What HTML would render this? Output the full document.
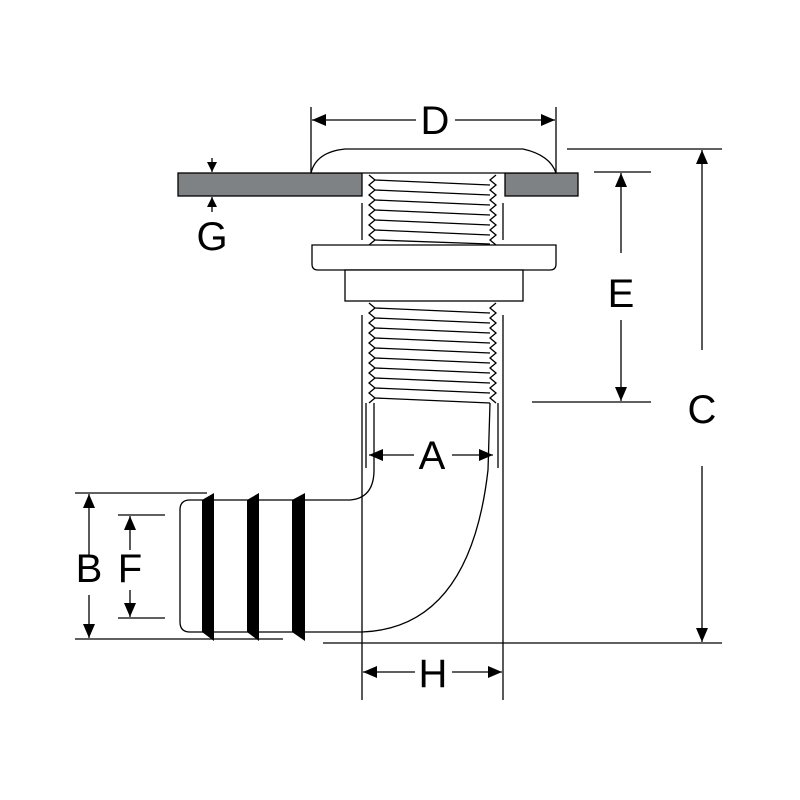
<!DOCTYPE html>
<html><head><meta charset="utf-8"><style>html,body{margin:0;padding:0;background:#fff}svg{display:block}</style></head><body>
<svg width="800" height="800" viewBox="0 0 800 800" xmlns="http://www.w3.org/2000/svg" font-family="Liberation Sans, sans-serif">
<defs>
<marker id="ar" viewBox="0 0 14 12" refX="14" refY="6" markerWidth="14" markerHeight="12" markerUnits="userSpaceOnUse" orient="auto-start-reverse"><path d="M0,0 L14,6 L0,12z" fill="#000"/></marker>
<marker id="ar2" viewBox="0 0 10 10" refX="10" refY="5" markerWidth="10" markerHeight="10" markerUnits="userSpaceOnUse" orient="auto-start-reverse"><path d="M0,0 L10,5 L0,10z" fill="#000"/></marker>
</defs>
<g stroke="#000" stroke-width="1.3" fill="none">
<rect x="178" y="173" width="184" height="23" fill="#7f8284"/>
<rect x="505" y="173" width="73" height="23" fill="#7f8284"/>
<path d="M311,173 Q316,152 345,149 L523,149 Q550,155 556,173 Z" fill="#fff"/>
<path d="M369,175 l6,5 l-6,5 l6,5 l-6,5 l6,5 l-6,5 l6,5 l-6,5 l6,5 l-6,5 l6,5 l-6,5 l6,5 l-6,5"/>
<path d="M496,175 l-6,5 l6,5 l-6,5 l6,5 l-6,5 l6,5 l-6,5 l6,5 l-6,5 l6,5 l-6,5 l6,5 l-6,5 l6,5"/>
<path d="M375,180 L490,185 M375,190 L490,195 M375,200 L490,205 M375,210 L490,215 M375,220 L490,225 M375,230 L490,235 M375,240 L490,244"/>
<line x1="362" y1="203" x2="362" y2="240"/><line x1="503" y1="203" x2="503" y2="240"/>
<path d="M312,245 L556,245 L556,264 Q556,270 550,270 L318,270 Q312,270 312,264 Z" fill="#fff"/>
<rect x="345" y="270" width="178" height="31" fill="#fff"/>
<path d="M369,303 l6,5 l-6,5 l6,5 l-6,5 l6,5 l-6,5 l6,5 l-6,5 l6,5 l-6,5 l6,5 l-6,5 l6,5 l-6,5 l6,5 l-6,5 l6,5 l-6,5 l6,5 l-6,5"/>
<path d="M496,303 l-6,5 l6,5 l-6,5 l6,5 l-6,5 l6,5 l-6,5 l6,5 l-6,5 l6,5 l-6,5 l6,5 l-6,5 l6,5 l-6,5 l6,5 l-6,5 l6,5 l-6,5 l6,5"/>
<path d="M375,308 L490,313 M375,318 L490,323 M375,328 L490,333 M375,338 L490,343 M375,348 L490,353 M375,358 L490,363 M375,368 L490,373 M375,378 L490,383 M375,388 L490,393 M375,398 L490,403"/>
<line x1="362" y1="315" x2="362" y2="700"/><line x1="503" y1="315" x2="503" y2="700"/>
<line x1="366" y1="403" x2="366" y2="468"/><line x1="498" y1="403" x2="498" y2="468"/>
<path d="M374,403 L374,470 Q374,498 350,500 L190,500 Q180,500 180,510 L180,622 Q180,632 190,632 L362,632 Q470,628 488,470 L490,403"/>
<line x1="75" y1="493" x2="207" y2="493"/><line x1="75" y1="639" x2="283" y2="639"/>
<line x1="118" y1="515" x2="165" y2="515"/><line x1="118" y1="618" x2="165" y2="618"/>
<line x1="323" y1="643" x2="722" y2="643"/><line x1="567" y1="149" x2="722" y2="149"/>
<line x1="594" y1="172" x2="651" y2="172"/><line x1="532" y1="402" x2="651" y2="402"/>
<line x1="311" y1="107" x2="311" y2="173"/><line x1="556" y1="107" x2="556" y2="173"/>
<line x1="89" y1="557" x2="89" y2="494" marker-end="url(#ar)"/><line x1="89" y1="595" x2="89" y2="638" marker-end="url(#ar)"/>
<line x1="130" y1="550" x2="130" y2="516" marker-end="url(#ar)"/><line x1="130" y1="590" x2="130" y2="617" marker-end="url(#ar)"/>
<line x1="702" y1="350" x2="702" y2="150" marker-end="url(#ar)"/><line x1="702" y1="466" x2="702" y2="642" marker-end="url(#ar)"/>
<line x1="621" y1="253" x2="621" y2="173" marker-end="url(#ar)"/><line x1="621" y1="320" x2="621" y2="401" marker-end="url(#ar)"/>
<line x1="414" y1="455" x2="369" y2="455" marker-end="url(#ar)"/><line x1="452" y1="455" x2="493" y2="455" marker-end="url(#ar)"/>
<line x1="415" y1="672" x2="363" y2="672" marker-end="url(#ar)"/><line x1="452" y1="672" x2="502" y2="672" marker-end="url(#ar)"/>
<line x1="416" y1="120" x2="312" y2="120" marker-end="url(#ar)"/><line x1="455" y1="120" x2="555" y2="120" marker-end="url(#ar)"/>
<line x1="212" y1="158" x2="212" y2="172" marker-end="url(#ar2)"/><line x1="212" y1="212" x2="212" y2="197" marker-end="url(#ar2)"/>
</g>
<g fill="#000">
<path d="M202,500 L214,493 L214,641 L202,632 Z"/>
<path d="M247,500 L259,493 L259,641 L247,632 Z"/>
<path d="M292,500 L305,493 L305,641 L292,632 Z"/>
</g>
<g font-size="40" text-anchor="middle" fill="#000">
<text x="435" y="134">D</text>
<text x="212" y="250">G</text>
<text x="621" y="307">E</text>
<text x="702" y="423">C</text>
<text x="432" y="469">A</text>
<text x="89" y="582">B</text>
<text x="130" y="582">F</text>
<text x="433" y="687">H</text>
</g>
</svg>
</body></html>
